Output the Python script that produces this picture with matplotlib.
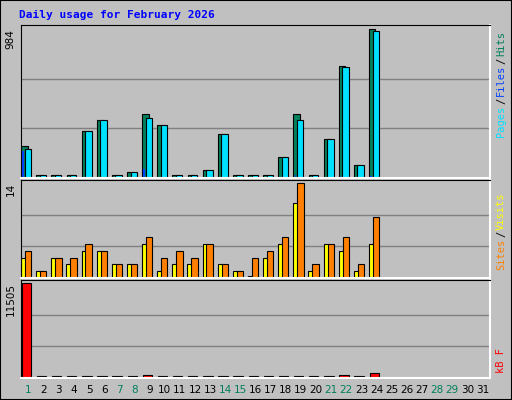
import matplotlib
matplotlib.use("Agg")
import matplotlib.pyplot as plt
import numpy as np

# values (days 1..24 of February 2026)
days = list(range(1, 25))
hits = [215, 0, 0, 10, 310, 387, 10, 40, 427, 353, 10, 10, 54, 293, 3, 0, 10, 139, 427, 3, 259, 745, 85, 984]
files = [193, 0, 0, 10, 310, 387, 10, 40, 400, 353, 10, 10, 54, 293, 3, 0, 10, 139, 387, 3, 259, 735, 85, 976]
pages = [180, 0, 0, 3, 3, 3, 3, 0, 60, 0, 3, 0, 3, 3, 0, 0, 3, 3, 20, 0, 3, 10, 0, 10]
sites = [3, 1, 3, 2, 4, 4, 2, 2, 5, 1, 2, 2, 5, 2, 1, 0, 3, 5, 11, 1, 5, 4, 1, 5]
visits = [4, 1, 3, 3, 5, 4, 2, 2, 6, 3, 4, 3, 5, 2, 1, 3, 4, 6, 14, 2, 5, 6, 2, 9]
kbytes = [11505, 50, 50, 50, 250, 250, 50, 50, 380, 250, 50, 50, 50, 50, 50, 50, 50, 50, 250, 50, 250, 380, 50, 550]
weekend_days = [1, 7, 8, 14, 15, 21, 22, 28, 29]

BG = "#c0c0c0"
GREEN = "#00805c"
W, H = 512, 400

fig = plt.figure(figsize=(W / 100, H / 100), dpi=100, facecolor=BG)
fig.patches.append(plt.Rectangle((0, 0), 1, 1, transform=fig.transFigure,
                                 fill=False, ec="black", lw=1.5))

fig.text(19 / W, 1 - 15 / H, "Daily usage for February 2026", color="#0000ff",
         family="DejaVu Sans Mono", weight="bold", fontsize=8, va="center")


def panel(top, bottom):
    ax = fig.add_axes([21 / W, 1 - bottom / H, (490 - 21) / W, (bottom - top) / H])
    ax.set_facecolor(BG)
    ax.set_xlim(0.5, 31.5)
    ax.set_xticks([])
    ax.set_yticks([])
    for s in ("left", "top"):
        ax.spines[s].set_color("black")
    for s in ("right", "bottom"):
        ax.spines[s].set_color("white")
        ax.spines[s].set_linewidth(1.5)
    return ax


def scale(ax, vmax, label):
    ax.set_ylim(0, vmax * 1.03)
    for f in (1 / 3, 2 / 3):
        ax.axhline(vmax * f, color="#808080", lw=1, zorder=0)
    ax.text(-0.012, vmax, label, transform=ax.get_yaxis_transform(), rotation=90,
            ha="right", va="top", fontsize=7.5, family="DejaVu Sans")


def shown(vals, vmax):
    # webalizer always draws at least a sliver of a bar
    return [max(v, vmax * 0.018) for v in vals]


x = np.array(days) - 0.15
bar_kw = dict(edgecolor="black", linewidth=0.8)

ax1 = panel(25, 178)
ax1.bar(x - 0.13, shown(hits, 984), width=0.42, color=GREEN, **bar_kw)
ax1.bar(x + 0.1, shown(files, 984), width=0.42, color="#00e0ff", **bar_kw)
ax1.bar(x - 0.22, pages, width=0.1, color="#0040ff", edgecolor="none")
scale(ax1, 984, "984")

ax2 = panel(180, 278)
ax2.bar(x - 0.17, shown(sites, 14), width=0.36, color="#ffff00", **bar_kw)
ax2.bar(x + 0.12, shown(visits, 14), width=0.42, color="#ff8000", **bar_kw)
scale(ax2, 14, "14")

ax3 = panel(280, 378)
ax3.bar(x, shown(kbytes, 11505), width=0.62, color="#ff0000", **bar_kw)
scale(ax3, 11505, "11505")

for d in range(1, 32):
    ax3.text(d, -0.12, str(d), transform=ax3.get_xaxis_transform(), ha="center",
             va="center", fontsize=7.5, color=GREEN if d in weekend_days else "black")


def side_label(parts, y):
    # rotated colored label on the right, reading bottom to top
    fx = 496 / W
    fy = 1 - y / H
    for txt, col in parts:
        t = fig.text(fx, fy, txt, rotation=90, color=col, family="DejaVu Sans Mono",
                     fontsize=7.5, ha="left", va="bottom")
        fig.canvas.draw()
        fy += t.get_window_extent().height / H + 1.5 / H


side_label([("Pages", "#00e0ff"), ("/", "black"), ("Files", "#0040ff"),
            ("/", "black"), ("Hits", GREEN)], 137)
side_label([("Sites", "#ff8000"), ("/", "black"), ("Visits", "#ffff00")], 270)
side_label([("kB F", "#ff0000")], 373)

fig.savefig("out.png", dpi=100, facecolor=BG)
